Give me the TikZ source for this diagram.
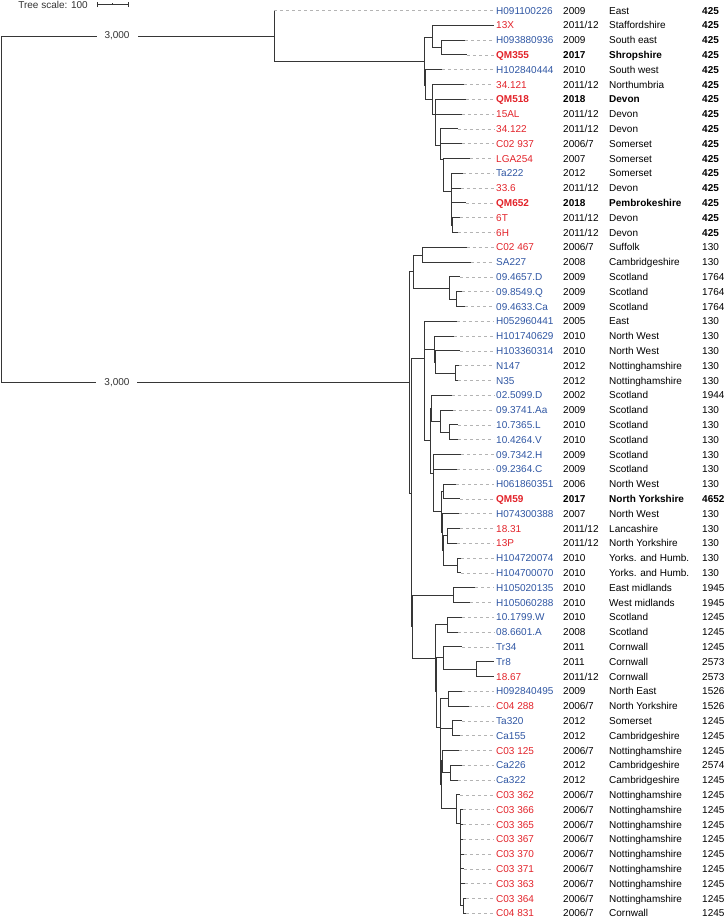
\documentclass[tikz,border=0pt]{standalone}
\usepackage{fontspec}
\setmainfont{Liberation Sans}
\definecolor{idblue}{HTML}{2F56A3}
\definecolor{idred}{HTML}{E2232A}
\definecolor{branchgray}{HTML}{363636}
\definecolor{dashgray}{HTML}{B4B4B4}

\begin{document}
\begin{tikzpicture}[
    x=1pt, y=-1pt,
    font=\fontsize{10}{12}\selectfont,
    branch/.style={draw=branchgray, line width=0.9pt},
    leafdash/.style={draw=dashgray, line width=0.8pt, dash pattern=on 3pt off 3pt, shorten >=2pt},
    leaflabel/.style={anchor=west, inner sep=0pt, text height=7.2pt, text depth=0pt},
    rowplain/.style={},
    rowbold/.style={font=\fontsize{10}{12}\selectfont\bfseries},
    brklabel/.style={fill=white, inner xsep=8pt, inner ysep=1pt, text=black!80}
]
\useasboundingbox (0,0) rectangle (726,919);

% --- tree scale ---
\node[anchor=east, inner sep=0pt, text=black!80] (scaletxt) at (88,4.7) {Tree scale: 100};
\coordinate (sbl) at (97,4.7);
\coordinate (sbr) at (128.3,4.7);
\coordinate (sbm) at (112.7,4.7);
\draw[branch, line width=0.8pt] (sbl) -- (sbr);
\draw[branch, line width=0.8pt] ([yshift=-2.5pt]sbl) -- ([yshift=2.5pt]sbl);
\draw[branch, line width=0.8pt] ([yshift=-2.5pt]sbr) -- ([yshift=2.5pt]sbr);
\draw[branch, line width=0.6pt] (sbm) -- ([yshift=1.5pt]sbm);

% --- leaves: index/tip x/isolate/colour/year/region/ST/row style/ST style ---
\foreach \i/\tx/\lid/\col/\yr/\reg/\st/\rs/\ss in {
  1/274/{H091100226}/idblue/2009/{East}/425/rowplain/rowbold,
  2/494/{13X}/idred/{2011/12}/{Staffordshire}/425/rowplain/rowbold,
  3/465/{H093880936}/idblue/2009/{South east}/425/rowplain/rowbold,
  4/467/{QM355}/idred/2017/{Shropshire}/425/rowbold/rowbold,
  5/442/{H102840444}/idblue/2010/{South west}/425/rowplain/rowbold,
  6/464/{34.121}/idred/{2011/12}/{Northumbria}/425/rowplain/rowbold,
  7/466/{QM518}/idred/2018/{Devon}/425/rowbold/rowbold,
  8/462/{15AL}/idred/{2011/12}/{Devon}/425/rowplain/rowbold,
  9/457.7/{34.122}/idred/{2011/12}/{Devon}/425/rowplain/rowbold,
  10/461.7/{C02 937}/idred/{2006/7}/{Somerset}/425/rowplain/rowbold,
  11/470/{LGA254}/idred/2007/{Somerset}/425/rowplain/rowbold,
  12/463/{Ta222}/idblue/2012/{Somerset}/425/rowplain/rowbold,
  13/460.7/{33.6}/idred/{2011/12}/{Devon}/425/rowplain/rowbold,
  14/466/{QM652}/idred/2018/{Pembrokeshire}/425/rowbold/rowbold,
  15/460/{6T}/idred/{2011/12}/{Devon}/425/rowplain/rowbold,
  16/457.7/{6H}/idred/{2011/12}/{Devon}/425/rowplain/rowbold,
  17/466.7/{C02 467}/idred/{2006/7}/{Suffolk}/130/rowplain/rowplain,
  18/470.7/{SA227}/idblue/2008/{Cambridgeshire}/130/rowplain/rowplain,
  19/460/{09.4657.D}/idblue/2009/{Scotland}/1764/rowplain/rowplain,
  20/462/{09.8549.Q}/idblue/2009/{Scotland}/1764/rowplain/rowplain,
  21/465/{09.4633.Ca}/idblue/2009/{Scotland}/1764/rowplain/rowplain,
  22/456.7/{H052960441}/idblue/2005/{East}/130/rowplain/rowplain,
  23/454/{H101740629}/idblue/2010/{North West}/130/rowplain/rowplain,
  24/460/{H103360314}/idblue/2010/{North West}/130/rowplain/rowplain,
  25/459/{N147}/idblue/2012/{Nottinghamshire}/130/rowplain/rowplain,
  26/458/{N35}/idblue/2012/{Nottinghamshire}/130/rowplain/rowplain,
  27/451.7/{02.5099.D}/idblue/2002/{Scotland}/1944/rowplain/rowplain,
  28/452.7/{09.3741.Aa}/idblue/2009/{Scotland}/130/rowplain/rowplain,
  29/458/{10.7365.L}/idblue/2010/{Scotland}/130/rowplain/rowplain,
  30/458/{10.4264.V}/idblue/2010/{Scotland}/130/rowplain/rowplain,
  31/461/{09.7342.H}/idblue/2009/{Scotland}/130/rowplain/rowplain,
  32/457.3/{09.2364.C}/idblue/2009/{Scotland}/130/rowplain/rowplain,
  33/456/{H061860351}/idblue/2006/{North West}/130/rowplain/rowplain,
  34/460/{QM59}/idred/2017/{North Yorkshire}/4652/rowbold/rowbold,
  35/459/{H074300388}/idblue/2007/{North West}/130/rowplain/rowplain,
  36/460/{18.31}/idred/{2011/12}/{Lancashire}/130/rowplain/rowplain,
  37/457/{13P}/idred/{2011/12}/{North Yorkshire}/130/rowplain/rowplain,
  38/461/{H104720074}/idblue/2010/{Yorks. and Humb.}/130/rowplain/rowplain,
  39/461/{H104700070}/idblue/2010/{Yorks. and Humb.}/130/rowplain/rowplain,
  40/475/{H105020135}/idblue/2010/{East midlands}/1945/rowplain/rowplain,
  41/470/{H105060288}/idblue/2010/{West midlands}/1945/rowplain/rowplain,
  42/462/{10.1799.W}/idblue/2010/{Scotland}/1245/rowplain/rowplain,
  43/457.7/{08.6601.A}/idblue/2008/{Scotland}/1245/rowplain/rowplain,
  44/462/{Tr34}/idblue/2011/{Cornwall}/1245/rowplain/rowplain,
  45/494/{Tr8}/idblue/2011/{Cornwall}/2573/rowplain/rowplain,
  46/494/{18.67}/idred/{2011/12}/{Cornwall}/2573/rowplain/rowplain,
  47/461.7/{H092840495}/idblue/2009/{North East}/1526/rowplain/rowplain,
  48/469.3/{C04 288}/idred/{2006/7}/{North Yorkshire}/1526/rowplain/rowplain,
  49/461.7/{Ta320}/idblue/2012/{Somerset}/1245/rowplain/rowplain,
  50/460/{Ca155}/idblue/2012/{Cambridgeshire}/1245/rowplain/rowplain,
  51/459.3/{C03 125}/idred/{2006/7}/{Nottinghamshire}/1245/rowplain/rowplain,
  52/461.7/{Ca226}/idblue/2012/{Cambridgeshire}/2574/rowplain/rowplain,
  53/457.7/{Ca322}/idblue/2012/{Cambridgeshire}/1245/rowplain/rowplain,
  54/460/{C03 362}/idred/{2006/7}/{Nottinghamshire}/1245/rowplain/rowplain,
  55/463/{C03 366}/idred/{2006/7}/{Nottinghamshire}/1245/rowplain/rowplain,
  56/463/{C03 365}/idred/{2006/7}/{Nottinghamshire}/1245/rowplain/rowplain,
  57/463/{C03 367}/idred/{2006/7}/{Nottinghamshire}/1245/rowplain/rowplain,
  58/464/{C03 370}/idred/{2006/7}/{Nottinghamshire}/1245/rowplain/rowplain,
  59/464/{C03 371}/idred/{2006/7}/{Nottinghamshire}/1245/rowplain/rowplain,
  60/465/{C03 363}/idred/{2006/7}/{Nottinghamshire}/1245/rowplain/rowplain,
  61/466/{C03 364}/idred/{2006/7}/{Nottinghamshire}/1245/rowplain/rowplain,
  62/466/{C04 831}/idred/{2006/7}/{Cornwall}/1245/rowplain/rowplain}{
  \pgfmathsetmacro\ly{10.5+(\i-1)*14.8}
  \coordinate (t\i) at (\tx,\ly);
  \node[leaflabel, text=\col, \rs] (id\i) at (496,\ly) {\lid};
  \node[leaflabel, \rs] (yr\i) at (563,\ly) {\yr};
  \node[leaflabel, \rs] (rg\i) at (609,\ly) {\reg};
  \node[leaflabel, \ss] (st\i) at (702,\ly) {\st};
  \draw[leafdash] (t\i) -- (id\i.west);
}

% --- internal nodes ---
\coordinate (root) at (1,209.2);
% upper clade (ST425)
\coordinate (up)   at (274,36);
\coordinate (up1)  at (424.3,61);
\coordinate (upa)  at (432,37);
\coordinate (upb)  at (441,47.5);
\coordinate (up2)  at (425.3,85);
\coordinate (up3)  at (432.7,99.5);
\coordinate (up4)  at (435.7,114.4);
\coordinate (up5)  at (440.7,145);
\coordinate (up6)  at (443,159);
\coordinate (up7)  at (451,191.7);
\coordinate (up8)  at (452.7,225.8);
% lower clade
\coordinate (lo)   at (409.3,382.3);
\coordinate (lo1)  at (411,493);
\coordinate (lo2)  at (412,626.3);
\coordinate (sfk)  at (413.3,271.7);
\coordinate (sfka) at (422.7,255.3);
\coordinate (sco)  at (449.3,288.5);
\coordinate (scoa) at (456.7,299.5);
\coordinate (nw)   at (424.3,358.3);
\coordinate (nwa)  at (424.8,395.3);
\coordinate (nwb)  at (434,349);
\coordinate (nwc)  at (435.7,362);
\coordinate (ntt)  at (455,373.3);
\coordinate (sc)   at (430.7,440.7);
\coordinate (sca)  at (431.7,408.2);
\coordinate (scb)  at (440.7,421.2);
\coordinate (scc)  at (449.3,432.6);
\coordinate (sc2)  at (433.3,473.2);
\coordinate (sc3)  at (433.8,491);
\coordinate (yk)   at (441.7,511.8);
\coordinate (yka)  at (443.3,491.7);
\coordinate (yk2)  at (442.5,532.3);
\coordinate (yk3)  at (443.3,550.3);
\coordinate (ykb)  at (447.7,535.9);
\coordinate (ykc)  at (457.3,565.5);
\coordinate (mid)  at (453.3,595.2);
\coordinate (cc)   at (435.7,658);
\coordinate (cca)  at (447.7,624.7);
\coordinate (cc2)  at (436.3,691.8);
\coordinate (cor)  at (443.3,657.7);
\coordinate (cora) at (476.7,669.2);
\coordinate (cc3)  at (440,727.5);
\coordinate (nea)  at (448.3,698.6);
\coordinate (cc4)  at (440.5,756.7);
\coordinate (cam)  at (452,728.4);
\coordinate (cc5)  at (441,784.6);
\coordinate (nt)   at (442.7,760.3);
\coordinate (nta)  at (450.7,772.7);
\coordinate (ntb)  at (456.7,808.6);
\coordinate (ntc)  at (460.7,823);
\coordinate (ntd)  at (463,905.4);

% --- long root branches (shortened) ---
\draw[branch] (root) |- node[brklabel, pos=0.7125]{3,000} (up);
\draw[branch] (root) |- node[brklabel, pos=0.642]{3,000} (lo);

% --- branches, parent |- child ---
\foreach \p/\c in {up/t1, up/up1, up1/upa, up1/up2, upa/t2, upa/upb, upb/t3, upb/t4,
    up2/t5, up2/up3, up3/t6, up3/up4, up4/t7, up4/t8, up4/up5, up5/t9, up5/t10, up5/up6,
    up6/t11, up6/up7, up7/t12, up7/t13, up7/t14, up7/up8, up8/t15, up8/t16,
    lo/sfk, lo/lo1, sfk/sfka, sfk/sco, sfka/t17, sfka/t18, sco/t19, sco/scoa, scoa/t20, scoa/t21,
    lo1/nw, lo1/lo2, nw/t22, nw/nwa, nwa/nwb, nwa/sc, nwb/t23, nwb/nwc, nwc/t24, nwc/ntt,
    ntt/t25, ntt/t26, sc/sca, sc/sc2, sca/t27, sca/scb, scb/t28, scb/scc, scc/t29, scc/t30,
    sc2/t31, sc2/sc3, sc3/t32, sc3/yk, yk/yka, yk/yk2, yka/t33, yka/t34, yk2/t35, yk2/yk3,
    yk3/ykb, yk3/ykc, ykb/t36, ykb/t37, ykc/t38, ykc/t39,
    lo2/mid, lo2/cc, mid/t40, mid/t41, cc/cca, cc/cc2, cca/t42, cca/t43, cc2/cor, cc2/cc3,
    cor/t44, cor/cora, cora/t45, cora/t46, cc3/nea, cc3/cc4, nea/t47, nea/t48, cc4/cam, cc4/cc5,
    cam/t49, cam/t50, cc5/nt, cc5/ntb, nt/t51, nt/nta, nta/t52, nta/t53, ntb/t54, ntb/ntc,
    ntc/t55, ntc/t56, ntc/t57, ntc/t58, ntc/t59, ntc/t60, ntc/ntd, ntd/t61, ntd/t62}{
  \draw[branch] (\p) |- (\c);
}

\end{tikzpicture}
\end{document}
